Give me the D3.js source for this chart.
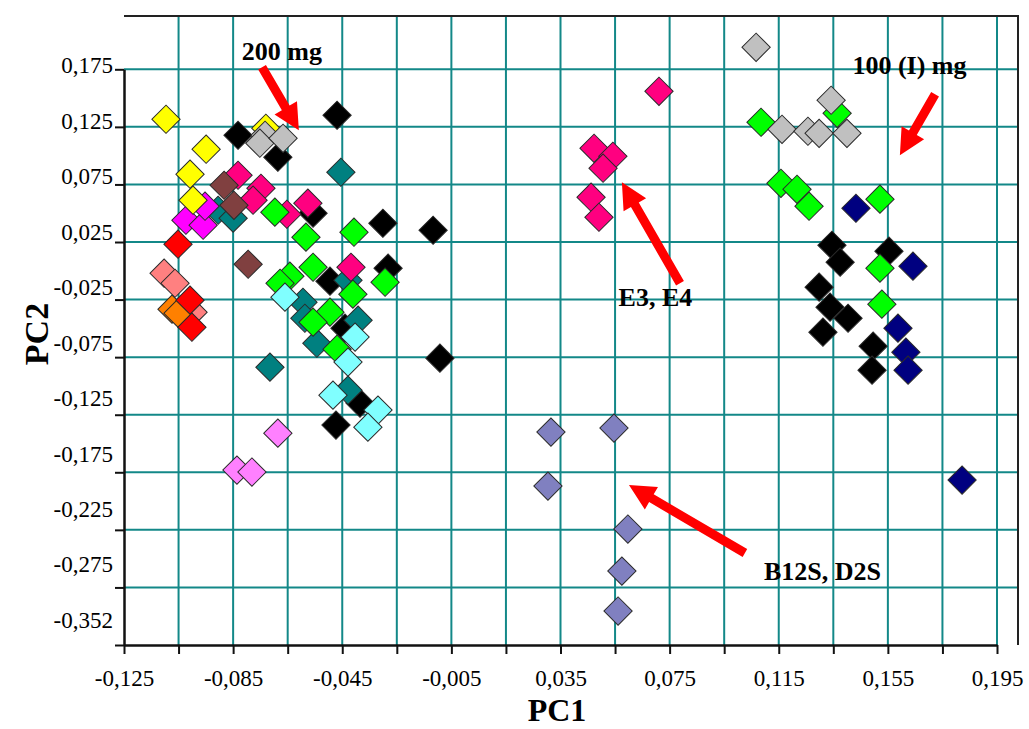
<!DOCTYPE html>
<html><head><meta charset="utf-8">
<script src="https://cdn.jsdelivr.net/npm/d3@7"></script>
<style>body{margin:0;background:#fff} svg{display:block}</style>
</head><body>
<svg id="chart" width="1029" height="729"></svg>
<script>
// ---------- data ----------
const xTicks = [-0.125,-0.105,-0.085,-0.065,-0.045,-0.025,-0.005,0.015,0.035,0.055,0.075,0.095,0.115,0.135,0.155,0.175,0.195];
const xTickLabels = ["-0,125","","-0,085","","-0,045","","-0,005","","0,035","","0,075","","0,115","","0,155","","0,195"];
const yTicks = [0.175,0.125,0.075,0.025,-0.025,-0.075,-0.125,-0.175,-0.225,-0.275,-0.325];
const yTickLabels = ["0,175","0,125","0,075","0,025","-0,025","-0,075","-0,125","-0,175","-0,225","-0,275","-0,352"];

const blackPts = [[-0.0832,0.1177],[-0.0686,0.0986],[-0.0469,0.1351],[-0.0557,0.0500],[-0.0301,0.0413],[-0.0117,0.0352],[-0.0282,0.0023],[-0.0495,-0.0090],[-0.0440,-0.0498],[-0.0092,-0.0759],[-0.0385,-0.1149],[-0.0473,-0.1340],
  [0.1345,0.0222],[0.1375,0.0075],[0.1554,0.0170],[0.1298,-0.0142],[0.1338,-0.0316],[0.1404,-0.0412],[0.1312,-0.0533],[0.1496,-0.0655],[0.1492,-0.0863]];
const tealPts = [[-0.0905,0.0526],[-0.0850,0.0457],[-0.0455,0.0856],[-0.0715,-0.0837],[-0.0594,-0.0273],[-0.0587,-0.0412],[-0.0429,-0.0082],[-0.0392,-0.0429],[-0.0543,-0.0629],[-0.0429,-0.1037]];
const magentaPts = [[-0.1023,0.0439],[-0.0960,0.0396],[-0.0953,0.0561]];
const yellowPts = [[-0.1096,0.1316],[-0.0949,0.1056],[-0.1008,0.0839],[-0.0997,0.0613],[-0.0730,0.1238]];
const grayPts = [[-0.0733,0.1177],[-0.0752,0.1108],[-0.0667,0.1151],[0.1067,0.1941],[0.1342,0.1481],[0.1162,0.1229],[0.1257,0.1212],[0.1298,0.1194],[0.1400,0.1194]];
const brownPts = [[-0.0883,0.0743],[-0.0847,0.0569],[-0.0795,0.0057]];
const salmonPts = [[-0.1103,-0.0021],[-0.1063,-0.0108],[-0.0997,-0.0359]];
const orangePts = [[-0.1074,-0.0333],[-0.1052,-0.0368]];
const redPts = [[-0.1052,0.0231],[-0.1008,-0.0255],[-0.1001,-0.0490]];
const pinkPts = [[-0.0832,0.0830],[-0.0748,0.0717],[-0.0777,0.0613],[-0.0653,0.0491],[-0.0576,0.0587],[-0.0418,0.0031],
  [0.0711,0.1559],[0.0473,0.1064],[0.0542,0.0995],[0.0506,0.0891],[0.0462,0.0639],[0.0491,0.0465]];
const greenPts = [[-0.0697,0.0509],[-0.0583,0.0292],[-0.0407,0.0335],[-0.0557,0.0031],[-0.0642,-0.0047],[-0.0678,-0.0108],[-0.0293,-0.0099],[-0.0411,-0.0203],[-0.0495,-0.0359],[-0.0469,-0.0681],[-0.0557,-0.0446],
  [0.1085,0.1290],[0.1364,0.1368],[0.1158,0.0760],[0.1217,0.0708],[0.1261,0.0561],[0.1521,0.0622],[0.1521,0.0023],[0.1528,-0.0290]];
const cyanPts = [[-0.0660,-0.0229],[-0.0403,-0.0576],[-0.0429,-0.0793],[-0.0484,-0.1080],[-0.0319,-0.1210],[-0.0356,-0.1358]];
const violetPts = [[-0.0686,-0.1410],[-0.0836,-0.1731],[-0.0781,-0.1748]];
const slatePts = [[0.0315,-0.1401],[0.0546,-0.1366],[0.0304,-0.1870],[0.0597,-0.2243],[0.0575,-0.2608],[0.0561,-0.2955]];
const navyPts = [[0.1433,0.0543],[0.1642,0.0040],[0.1587,-0.0498],[0.1616,-0.0707],[0.1624,-0.0863],[0.1822,-0.1818]];

const seriesList = [
  {pts: blackPts, color: "#000000"},
  {pts: tealPts, color: "#008080"},
  {pts: magentaPts, color: "#FF00FF"},
  {pts: yellowPts, color: "#FFFF00"},
  {pts: salmonPts, color: "#FF8080"},
  {pts: orangePts, color: "#FF8000"},
  {pts: redPts, color: "#FF0000"},
  {pts: pinkPts, color: "#FF0080"},
  {pts: brownPts, color: "#804040"},
  {pts: greenPts, color: "#00FF00"},
  {pts: grayPts, color: "#C0C0C0"},
  {pts: cyanPts, color: "#80FFFF"},
  {pts: violetPts, color: "#FF80FF"},
  {pts: slatePts, color: "#8080C0"},
  {pts: navyPts, color: "#000080"}
];

const annotTexts = ["200 mg","100 (I) mg","E3, E4","B12S, D2S"];
const annotPos = [[-0.0671,0.1828],[0.1629,0.1707],[0.0698,-0.0307],[0.1310,-0.2686]];
const arrowTails = [[-0.0744,0.1767],[0.1723,0.1533],[0.0788,-0.0108],[0.1026,-0.2451]];
const arrowTips = [[-0.0609,0.1220],[0.1594,0.1003],[0.0575,0.0769],[0.0601,-0.1861]];

// ---------- layout ----------
const svg = d3.select("#chart");
const x = d3.scaleLinear().domain([-0.125, 0.195]).range([124, 997]);
const y = d3.scaleLinear().domain([0.175, -0.325]).range([69.3, 645]);
const yLab = d3.scaleLinear().domain([0.175, -0.325]).range([65.5, 620]);
const pLeft = 124, pRight = 1018, pTop = 16, pBottom = 645;
const gridColor = "#138888";

// grid
svg.append("g").selectAll("line").data(xTicks.slice(1)).join("line")
  .attr("x1", d => x(d)).attr("x2", d => x(d)).attr("y1", pTop).attr("y2", pBottom)
  .attr("stroke", gridColor).attr("stroke-width", 2);
svg.append("g").selectAll("line").data(yTicks.slice(0, -1)).join("line")
  .attr("x1", pLeft).attr("x2", pRight).attr("y1", d => y(d)).attr("y2", d => y(d))
  .attr("stroke", gridColor).attr("stroke-width", 2);

// frame (top/right)
svg.append("path").attr("d", `M${pLeft},${pTop}H${pRight}V${pBottom}`)
  .attr("fill", "none").attr("stroke", "#222").attr("stroke-width", 2);

// axes
const xAxis = d3.axisBottom(x).tickValues(xTicks).tickSize(9).tickSizeOuter(0).tickPadding(16)
  .tickFormat((d, i) => xTickLabels[i]);
const gx = svg.append("g").attr("transform", `translate(0,${pBottom})`).call(xAxis);
const yAxis = d3.axisLeft(y).tickValues(yTicks).tickSize(9).tickSizeOuter(0).tickFormat("");
const gy = svg.append("g").attr("transform", `translate(${pLeft},0)`).call(yAxis);
const yAxisLab = d3.axisLeft(yLab).tickValues(yTicks).tickSize(0).tickPadding(11)
  .tickFormat((d, i) => yTickLabels[i]);
const gyl = svg.append("g").attr("transform", `translate(${pLeft},0)`).call(yAxisLab);
gyl.select(".domain").remove();
gyl.selectAll(".tick line").remove();
[gx, gy].forEach(g => {
  g.select(".domain").attr("stroke", "#111").attr("stroke-width", 2.5);
  g.selectAll(".tick line").attr("stroke", "#111").attr("stroke-width", 2);
});
[gx, gyl].forEach(g => g.selectAll("text")
  .attr("font-family", "'Liberation Serif','Times New Roman',serif")
  .attr("font-size", 23).attr("fill", "#000"));

// axis titles
svg.append("text").attr("x", 557).attr("y", 721).attr("text-anchor", "middle")
  .attr("font-family", "'Liberation Serif','Times New Roman',serif").attr("font-weight", "bold")
  .attr("font-size", 32).text("PC1");
svg.append("text").attr("transform", "translate(48,334) rotate(-90)").attr("text-anchor", "middle")
  .attr("font-family", "'Liberation Serif','Times New Roman',serif").attr("font-weight", "bold")
  .attr("font-size", 34).text("PC2");

// points
const sym = d3.symbol().type(d3.symbolSquare).size(400);
const gp = svg.append("g");
seriesList.forEach(s => {
  gp.append("g").selectAll("path").data(s.pts).join("path")
    .attr("d", sym)
    .attr("transform", d => `translate(${x(d[0])},${y(d[1])}) rotate(45)`)
    .attr("fill", s.color).attr("stroke", "#2a2a2a").attr("stroke-width", 1);
});

// arrows
function arrowPath(t, h) {
  const x1 = x(t[0]), y1 = y(t[1]), x2 = x(h[0]), y2 = y(h[1]);
  const dx = x2 - x1, dy = y2 - y1, L = Math.hypot(dx, dy);
  const ux = dx / L, uy = dy / L, nx = -uy, ny = ux;
  const hl = 26, sw = 4.5, hw = 13;
  const bx = x2 - ux * hl, by = y2 - uy * hl;
  const p = [
    [x1 + nx * sw, y1 + ny * sw], [bx + nx * sw, by + ny * sw], [bx + nx * hw, by + ny * hw],
    [x2, y2], [bx - nx * hw, by - ny * hw], [bx - nx * sw, by - ny * sw], [x1 - nx * sw, y1 - ny * sw]
  ];
  return "M" + p.map(q => q.join(",")).join("L") + "Z";
}
svg.append("g").selectAll("path").data(arrowTails).join("path")
  .attr("d", (d, i) => arrowPath(d, arrowTips[i])).attr("fill", "#FF0000");

// annotation texts
svg.append("g").selectAll("text").data(annotTexts).join("text")
  .attr("x", (d, i) => x(annotPos[i][0])).attr("y", (d, i) => y(annotPos[i][1]))
  .attr("text-anchor", "middle")
  .attr("font-family", "'Liberation Serif','Times New Roman',serif").attr("font-weight", "bold")
  .attr("font-size", 26).attr("fill", "#000").text(d => d);
</script>
</body></html>
